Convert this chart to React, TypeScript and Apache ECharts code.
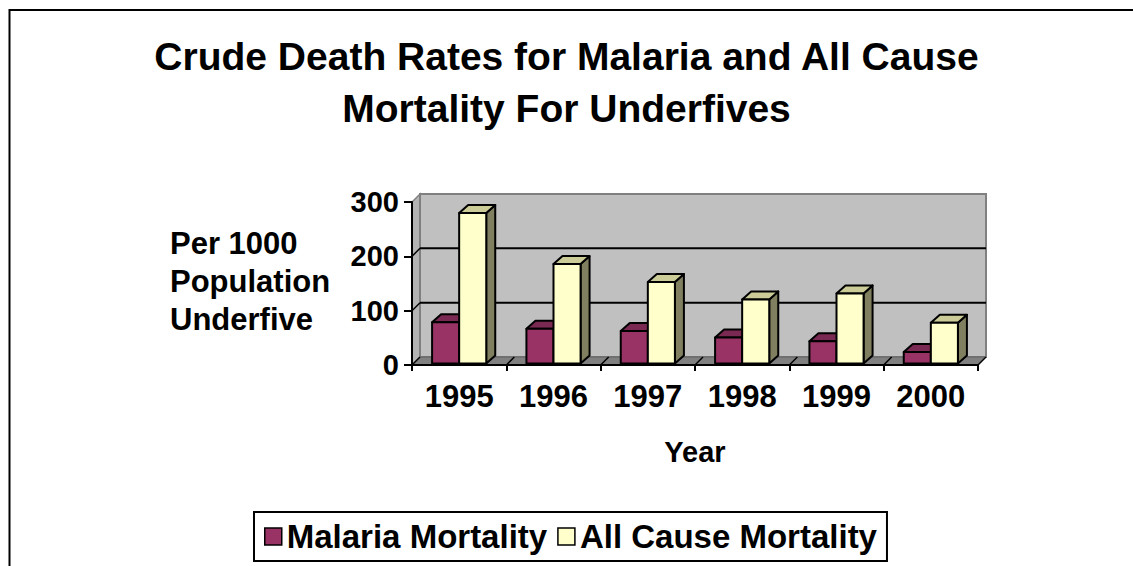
import React, { useEffect, useRef } from "react";
import * as echarts from "echarts";

const years = ["1995", "1996", "1997", "1998", "1999", "2000"];
const malaria = [76, 64, 60, 48, 41, 21];
const allCause = [277, 183, 150, 118, 129, 75];
const wallGridValues = [100, 200];
const seriesNames = ["Malaria Mortality", "All Cause Mortality"];

const FONT = "'Liberation Sans', Arial, Helvetica, sans-serif";

export default function App() {
  const ref = useRef<HTMLDivElement>(null);

  useEffect(() => {
    const chart = echarts.init(ref.current!, null, { renderer: "svg" });
    const WDX = 8, WDY = -8; // back wall depth offset
    const BDX = 9, BDY = 8; // bar depth offset
    const BAR = 0.287; // bar width as fraction of category band

    const frameRender = (params: any, api: any) => {
      const cs = params.coordSys;
      const x = cs.x, y = cs.y, w = cs.width, h = cs.height;
      const children: any[] = [];
      children.push({
        type: "polygon",
        shape: { points: [[x, y + h], [x, y], [x + WDX, y + WDY], [x + WDX, y + h + WDY]] },
        style: { fill: "#b4b4b4", stroke: "#808080", lineWidth: 1.5 },
      });
      children.push({
        type: "rect",
        shape: { x: x + WDX, y: y + WDY, width: w, height: h },
        style: { fill: "#c0c0c0", stroke: "#808080", lineWidth: 2 },
      });
      children.push({
        type: "polygon",
        shape: { points: [[x, y + h], [x + w, y + h], [x + w + WDX, y + h + WDY], [x + WDX, y + h + WDY]] },
        style: { fill: "#808080", stroke: "#606060", lineWidth: 1 },
      });
      wallGridValues.forEach((v) => {
        const p = api.coord([0, v]);
        children.push({
          type: "line",
          shape: { x1: x + WDX, y1: p[1] + WDY, x2: x + w + WDX, y2: p[1] + WDY },
          style: { stroke: "#000", lineWidth: 2 },
        });
        children.push({
          type: "line",
          shape: { x1: x, y1: p[1], x2: x + WDX, y2: p[1] + WDY },
          style: { stroke: "#000", lineWidth: 1.5 },
        });
      });
      const n = years.length;
      for (let i = 0; i <= n; i++) {
        const bx = x + (i * w) / n;
        children.push({
          type: "line",
          shape: { x1: bx, y1: y + h, x2: bx + WDX, y2: y + h + WDY },
          style: { stroke: "#000", lineWidth: 1.5 },
        });
      }
      return { type: "group", children };
    };

    const barRender = (side: number, front: string, top: string, sideC: string) =>
      (params: any, api: any) => {
        const idx = api.value(0);
        const val = api.value(1);
        const b = api.coord([idx, 0]);
        const t = api.coord([idx, val]);
        const band = api.size([1, 0])[0];
        const x0 = side < 0 ? b[0] - BAR * band : b[0];
        const x1 = x0 + BAR * band;
        const yb = b[1] - 1.5;
        const yt = t[1] - 1.5;
        const stroke = { stroke: "#000", lineWidth: 2, lineJoin: "round" };
        return {
          type: "group",
          children: [
            {
              type: "polygon",
              shape: { points: [[x1, yt], [x1 + BDX, yt - BDY], [x1 + BDX, yb - BDY], [x1, yb]] },
              style: { fill: sideC, ...stroke },
            },
            {
              type: "polygon",
              shape: { points: [[x0, yt], [x1, yt], [x1 + BDX, yt - BDY], [x0 + BDX, yt - BDY]] },
              style: { fill: top, ...stroke },
            },
            {
              type: "rect",
              shape: { x: x0, y: yt, width: x1 - x0, height: yb - yt },
              style: { fill: front, ...stroke },
            },
          ],
        };
      };

    chart.setOption({
      animation: false,
      backgroundColor: "#ffffff",
      title: {
        text: "Crude Death Rates for Malaria and All Cause\nMortality For Underfives",
        left: "center",
        top: 25,
        textStyle: { fontSize: 39, fontWeight: "bold", color: "#000", fontFamily: FONT, lineHeight: 52 },
      },
      legend: {
        data: seriesNames,
        left: 254,
        top: 512,
        orient: "horizontal",
        icon: "rect",
        itemWidth: 17,
        itemHeight: 17,
        itemGap: 10,
        padding: [8, 10],
        borderColor: "#000",
        borderWidth: 2,
        backgroundColor: "#fff",
        borderRadius: 0,
        textStyle: { fontSize: 33, fontWeight: "bold", color: "#000", fontFamily: FONT },
        itemStyle: { borderColor: "#000", borderWidth: 1.5 },
      },
      grid: { left: 412, width: 566, top: 202, height: 163 },
      xAxis: {
        type: "category",
        data: years,
        z: 10,
        boundaryGap: true,
        axisLine: { show: true, lineStyle: { color: "#000", width: 2 } },
        axisTick: { show: true, length: 6, lineStyle: { color: "#000", width: 2 } },
        axisLabel: { fontSize: 31, fontWeight: "bold", color: "#000", fontFamily: FONT, margin: 16 },
        splitLine: { show: false },
        name: "Year",
        nameLocation: "middle",
        nameGap: 72,
        nameTextStyle: { fontSize: 29, fontWeight: "bold", color: "#000", fontFamily: FONT },
      },
      yAxis: {
        type: "value",
        min: 0,
        max: 300,
        interval: 100,
        z: 10,
        axisLine: { show: true, lineStyle: { color: "#000", width: 2 } },
        axisTick: { show: true, length: 8, lineStyle: { color: "#000", width: 2 } },
        axisLabel: { fontSize: 29, fontWeight: "bold", color: "#000", fontFamily: FONT, margin: 13 },
        splitLine: { show: false },
      },
      graphic: [
        {
          type: "rect",
          shape: { x: 9.5, y: 10, width: 1140, height: 600 },
          style: { fill: "none", stroke: "#000", lineWidth: 2 },
          silent: true,
        },
        {
          type: "text",
          x: 170,
          y: 224,
          style: {
            text: "Per 1000\nPopulation\nUnderfive",
            font: `bold 31px ${FONT}`,
            fill: "#000",
            lineHeight: 38,
            align: "left",
            verticalAlign: "top",
          },
        },
      ],
      series: [
        {
          type: "custom",
          name: "frame",
          silent: true,
          z: 1,
          renderItem: frameRender,
          data: [[0, 0]],
          encode: { x: 0, y: 1 },
        },
        {
          type: "custom",
          name: seriesNames[0],
          z: 3,
          itemStyle: { color: "#993366" },
          renderItem: barRender(-1, "#993366", "#7a2952", "#5c1f3d"),
          data: years.map((_, i) => [i, malaria[i]]),
          encode: { x: 0, y: 1 },
        },
        {
          type: "custom",
          name: seriesNames[1],
          z: 4,
          itemStyle: { color: "#ffffcc" },
          renderItem: barRender(1, "#ffffcc", "#cccc99", "#808060"),
          data: years.map((_, i) => [i, allCause[i]]),
          encode: { x: 0, y: 1 },
        },
      ],
    });

    return () => chart.dispose();
  }, []);

  return (
    <div
      ref={ref}
      style={{ position: "absolute", left: 0, top: 0, width: 1133, height: 566 }}
    />
  );
}
